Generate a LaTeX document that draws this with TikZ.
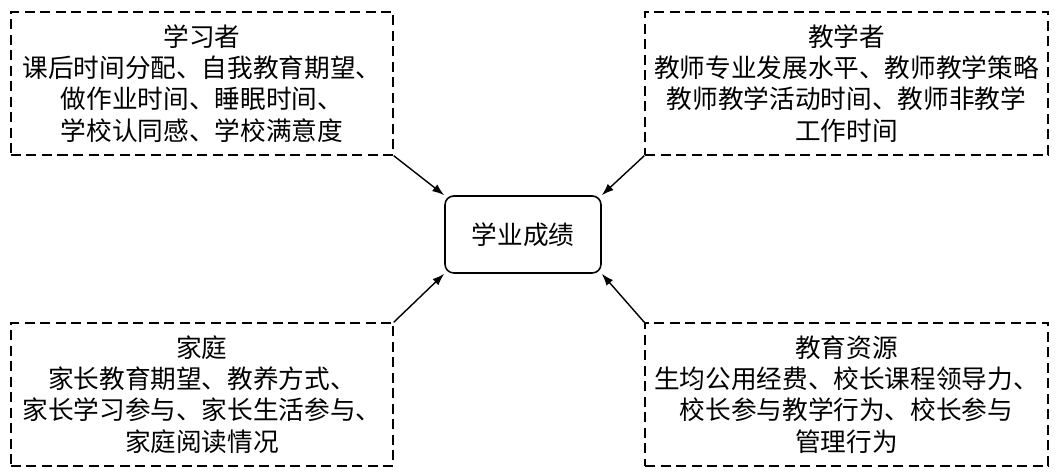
\documentclass[tikz,border=0pt]{standalone}
\usepackage{fontspec}
\setmainfont{Noto Sans CJK SC}
\usetikzlibrary{arrows.meta}

\begin{document}
\begin{tikzpicture}[
  factor/.style={draw, dash pattern=on 2mm off 1.1mm, line width=0.8pt, minimum height=2.86cm, align=center, inner sep=0pt, font=\fontsize{14.6}{17.8}\selectfont},
  core/.style={draw, rounded corners=5pt, line width=0.9pt, minimum width=3.12cm, minimum height=1.54cm, font=\fontsize{14.6}{17.8}\selectfont},
  arr/.style={-{Latex[length=2.4mm,width=1.7mm]}, line width=0.8pt},
]
\useasboundingbox (0,0) rectangle (21.18,9.48);
% centre
\node[core] (score) at (10.46, 4.79) {学业成绩};
% four groups of factors
\node[factor, minimum width=7.64cm] (learner) at (4.04, 7.81)
  {学习者\\课后时间分配、自我教育期望、\\做作业时间、睡眠时间、\\学校认同感、学校满意度};
\node[factor, minimum width=8.06cm] (teacher) at (16.93, 7.81)
  {教学者\\教师专业发展水平、教师教学策略\\教师教学活动时间、教师非教学\\工作时间};
\node[factor, minimum width=7.64cm] (family) at (4.04, 1.59)
  {家庭\\家长教育期望、教养方式、\\家长学习参与、家长生活参与、\\家庭阅读情况};
\node[factor, minimum width=8.06cm] (resource) at (16.93, 1.59)
  {教育资源\\生均公用经费、校长课程领导力、\\校长参与教学行为、校长参与\\管理行为};
% arrows
\draw[arr] (learner.south east) -- (score.north west);
\draw[arr] (teacher.south west) -- (score.north east);
\draw[arr] (family.north east) -- (score.south west);
\draw[arr] (resource.north west) -- (score.south east);
\end{tikzpicture}
\end{document}
